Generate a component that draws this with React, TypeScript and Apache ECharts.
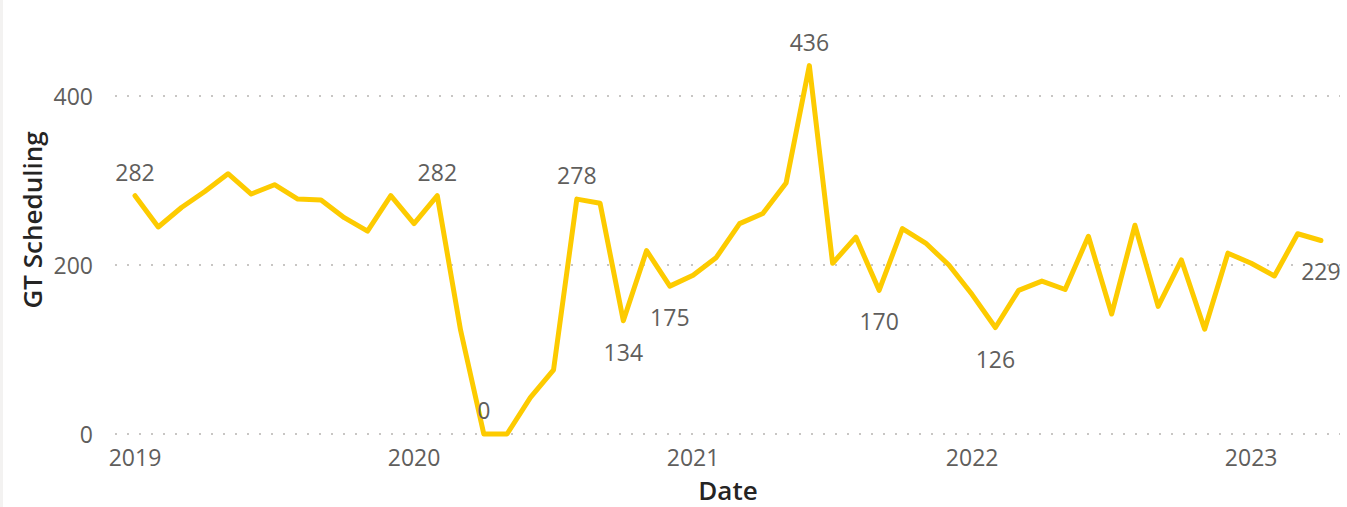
import React, { useEffect, useRef } from "react";
import * as echarts from "echarts";

const months: string[] = [
  "2019-01","2019-02","2019-03","2019-04","2019-05","2019-06","2019-07","2019-08","2019-09","2019-10","2019-11","2019-12",
  "2020-01","2020-02","2020-03","2020-04","2020-05","2020-06","2020-07","2020-08","2020-09","2020-10","2020-11","2020-12",
  "2021-01","2021-02","2021-03","2021-04","2021-05","2021-06","2021-07","2021-08","2021-09","2021-10","2021-11","2021-12",
  "2022-01","2022-02","2022-03","2022-04","2022-05","2022-06","2022-07","2022-08","2022-09","2022-10","2022-11","2022-12",
  "2023-01","2023-02","2023-03","2023-04",
];

const values: number[] = [
  282, 245, 268, 287, 308, 284, 295, 278, 277, 256, 240, 282,
  249, 282, 123, 0, 0, 43, 76, 278, 273, 134, 217, 175,
  188, 209, 249, 261, 297, 436, 202, 233, 170, 243, 226, 200,
  165, 126, 170, 181, 171, 234, 142, 247, 151, 206, 124, 214,
  202, 187, 237, 229,
];

const yearLabels: string[] = ["2019", "2020", "2021", "2022", "2023"];
const yearIndex: number[] = [0, 12, 24, 36, 48];

// index -> label placement for the labelled points
const labelled: Record<number, string> = {
  0: "top", 13: "top", 15: "top", 19: "top", 21: "bottom", 23: "bottom",
  29: "top", 32: "bottom", 37: "bottom", 51: "bottom",
};

const FONT = "'Segoe UI', 'Open Sans', sans-serif";
const LINE = "#FDCB00";

export default function App() {
  const ref = useRef<HTMLDivElement>(null);
  useEffect(() => {
    document.body.style.margin = "0";
    if (!ref.current) return;
    const chart = echarts.init(ref.current, undefined, { renderer: "svg" });
    const data = values.map((v, i) => {
      const pos = labelled[i];
      const item: any = { value: [i, v], name: months[i] };
      if (pos) {
        item.label = {
          show: true,
          position: pos,
          distance: pos === "top" ? 11 : 18,
          offset: i === 51 ? [-7, 0] : [0, 0],
        };
      }
      return item;
    });
    chart.setOption({
      animation: false,
      backgroundColor: "#ffffff",
      grid: { left: 115, right: 7, top: 96, bottom: 73, containLabel: false },
      xAxis: {
        type: "value",
        min: -0.86,
        max: 51.82,
        axisLine: { show: false },
        axisTick: { show: false },
        splitLine: { show: false },
        axisLabel: {
          customValues: yearIndex,
          formatter: (v: number) => yearLabels[yearIndex.indexOf(Math.round(v))] ?? "",
          color: "#605E5C",
          fontSize: 23,
          fontFamily: FONT,
          margin: 11,
        },
      },
      yAxis: {
        type: "value",
        min: 0,
        max: 400,
        interval: 200,
        axisLine: { show: false },
        axisTick: { show: false },
        axisLabel: { color: "#605E5C", fontSize: 23, fontFamily: FONT, margin: 22 },
        splitLine: {
          show: true,
          lineStyle: { color: "#C8C6C4", width: 2, type: [2, 10] },
        },
      },
      graphic: [
        { type: "rect", shape: { x: 0, y: 0, width: 3, height: 507 }, style: { fill: "#F3F2F1" } },
        {
          type: "text",
          x: 32,
          y: 220,
          rotation: Math.PI / 2,
          style: {
            text: "GT Scheduling",
            fill: "#252423",
            fontSize: 26,
            fontFamily: FONT,
            fontWeight: 600,
            align: "center",
            verticalAlign: "middle",
          },
        },
        {
          type: "text",
          x: 728,
          y: 490,
          style: {
            text: "Date",
            fill: "#252423",
            fontSize: 26,
            fontFamily: FONT,
            fontWeight: 600,
            align: "center",
            verticalAlign: "middle",
          },
        },
      ],
      series: [
        {
          type: "line",
          data,
          clip: false,
          symbol: "circle",
          symbolSize: 3,
          showSymbol: true,
          showAllSymbol: true,
          lineStyle: { color: LINE, width: 5, join: "round", cap: "round" },
          itemStyle: { color: LINE },
          label: { show: false, color: "#605E5C", fontSize: 23, fontFamily: FONT },
          labelLayout: { hideOverlap: false },
        },
      ],
    });
    return () => chart.dispose();
  }, []);
  return <div ref={ref} style={{ width: 1347, height: 507 }} />;
}
